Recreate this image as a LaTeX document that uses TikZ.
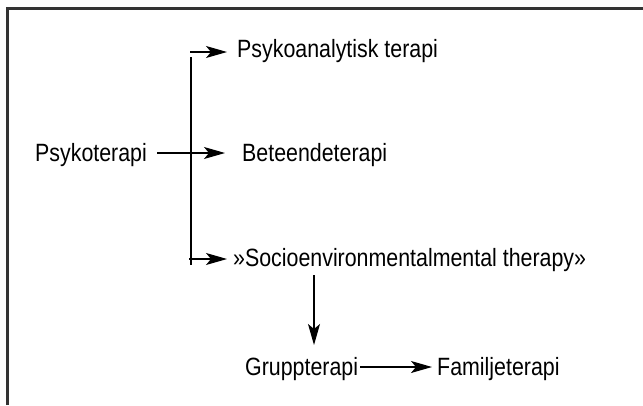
\documentclass[tikz,border=0pt]{standalone}
\usepackage{fontspec}
\setmainfont[FakeStretch=0.855]{Liberation Sans}
\usetikzlibrary{arrows.meta}
\begin{document}
\begin{tikzpicture}[x=1pt,y=-1pt,
  lbl/.style={anchor=base west,inner sep=0pt,font=\fontsize{25}{29}\selectfont,text=black},
  conn/.style={line width=1.2pt,black},
  arr/.style={conn,-{Stealth[length=21pt,width=12pt,inset=5pt]}}]
\useasboundingbox (0,0) rectangle (643,405);
% frame (open at right and bottom)
\draw[line width=2.4pt,black!80] (7.5,405) -- (7.5,8.5) -- (643,8.5);
% labels
\node[lbl] (pa) at (237,57) {Psykoanalytisk terapi};
\node[lbl] (pt) at (35,161) {Psykoterapi};
\node[lbl] (bt) at (242,161) {Beteendeterapi};
\node[lbl] (se) at (233,266) {»Socioenvironmentalmental therapy»};
\node[lbl] (gt) at (245,375) {Gruppterapi};
\node[lbl] (ft) at (437,375) {Familjeterapi};
% bus
\coordinate (bt0) at (191,57);
\coordinate (bb0) at (191,265);
\coordinate (a1) at (190,52);
\coordinate (a2) at (157,153);
\coordinate (a3) at (189,259);
\coordinate (d1) at (314,275);
\coordinate (g1) at ([xshift=2pt]gt.east |- 0,367);
\draw[conn] (bt0) -- (bb0);
\draw[arr] (a1) -- ([xshift=-10pt]pa.west |- a1);
\draw[arr] (a2) -- ([xshift=-17pt]bt.west |- a2);
\draw[arr] (a3) -- ([xshift=-6pt]se.west |- a3);
\draw[arr] (d1) -- ++(0,70);
\draw[arr] (g1) -- ([xshift=-5pt]ft.west |- g1);
\end{tikzpicture}
\end{document}
